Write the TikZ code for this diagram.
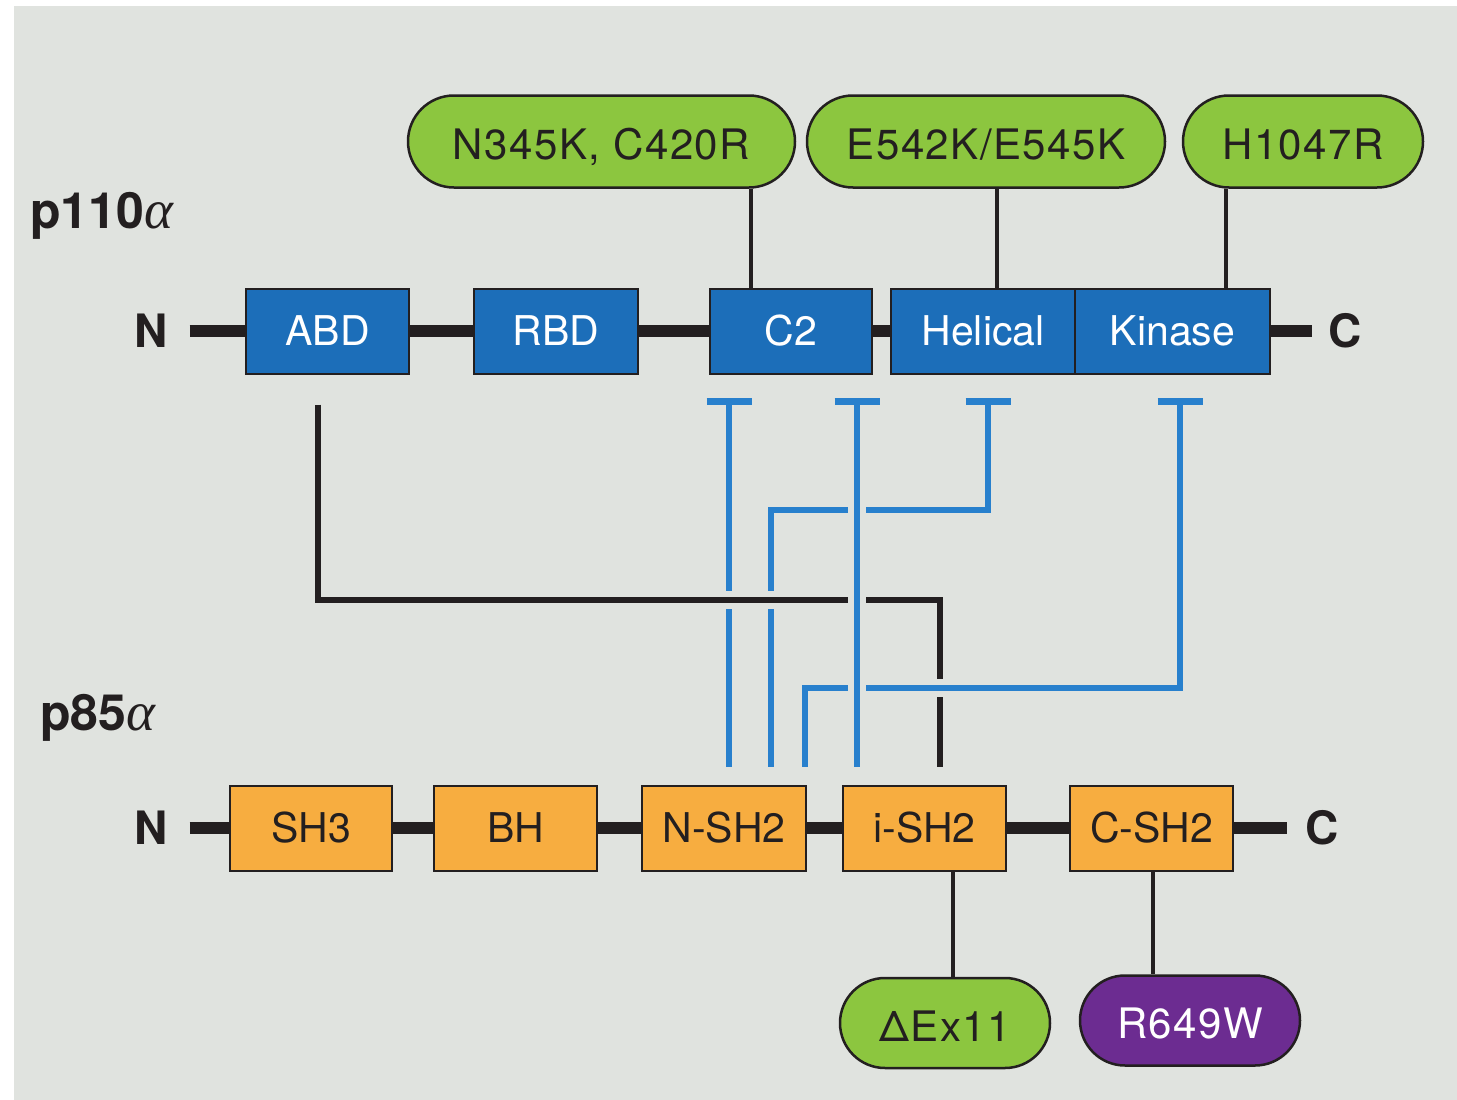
\documentclass[tikz,border=0pt]{standalone}
\usepackage{fontspec}
\setmainfont{TeX Gyre Heros}
\newfontfamily\greekfont{Liberation Serif}
\usetikzlibrary{arrows.meta,shapes.misc}

\definecolor{panelgray}{RGB}{224,227,223}
\definecolor{domblue}{RGB}{28,110,185}
\definecolor{linkblue}{RGB}{40,128,205}
\definecolor{domorange}{RGB}{247,173,64}
\definecolor{mutgreen}{RGB}{140,198,63}
\definecolor{mutpurple}{RGB}{108,44,145}
\definecolor{inkdark}{RGB}{35,31,32}

\newcommand{\isoform}{{\greekfont\mdseries\itshape\fontsize{55}{57}\selectfont α}}

\tikzset{
  dombox/.style={draw=inkdark, line width=2pt, minimum height=85pt, inner sep=0pt, font=\fontsize{41}{44}\selectfont},
  p110dom/.style={dombox, fill=domblue, text=white},
  p85dom/.style={dombox, fill=domorange, text=inkdark},
  mutation/.style={rounded rectangle, draw=inkdark, line width=2.5pt, fill=mutgreen, text=inkdark, minimum height=92pt, inner xsep=0pt, text height=36pt, text depth=0pt, font=\fontsize{42}{45}\selectfont\addfontfeature{LetterSpace=3.5}},
  terminus/.style={inner ysep=0pt, outer sep=0pt, text=inkdark, font=\fontsize{46}{48}\selectfont\bfseries},
  protname/.style={anchor=base west, inner sep=0pt, text=inkdark, font=\fontsize{50}{52}\selectfont\bfseries},
  backbone/.style={draw=inkdark, line width=12pt},
  tether/.style={draw=inkdark, line width=4.5pt},
  halo/.style={preaction={draw=panelgray, line width=18pt, arrows=-}},
  inhib/.style={draw=linkblue, line width=5.5pt, -{Bar[width=45pt,line width=7pt]}, shorten <=18pt, shorten >=23pt},
  contact/.style={draw=inkdark, line width=5.5pt, shorten <=30pt, shorten >=18pt}
}

\begin{document}
\begin{tikzpicture}[x=1pt,y=-1pt]
\useasboundingbox (0,0) rectangle (1457,1100);
\fill[panelgray] (14,6) rectangle (1457,1100);

% protein names
\node[protname] (lblp110) at (30,228) {p110\isoform};
\node[protname] (lblp85) at (40,730) {p85\isoform};

% p110 alpha domains
\node[terminus, inner xsep=22pt] (n110) at (151,331) {N};
\node[terminus, inner xsep=16pt] (c110) at (1345,331) {C};
\node[p110dom, minimum width=163pt] (abd) at (327.5,331) {ABD};
\node[p110dom, minimum width=164pt] (rbd) at (556,331) {RBD};
\node[p110dom, minimum width=162pt] (ctwo) at (791,331) {C2};
\node[p110dom, minimum width=184pt] (helical) at (983,331) {Helical};
\node[p110dom, minimum width=195pt] (kinase) at (1172.5,331) {Kinase};

% p85 alpha domains
\node[terminus, inner xsep=22pt] (n85) at (151,828) {N};
\node[terminus, inner xsep=18pt] (c85) at (1322,828) {C};
\node[p85dom, minimum width=162pt] (shthree) at (311,828) {SH3};
\node[p85dom, minimum width=163pt] (bh) at (515.5,828) {BH};
\node[p85dom, minimum width=164pt] (nsh) at (724,828) {N-SH2};
\node[p85dom, minimum width=163pt] (ish) at (924.5,828) {i-SH2};
\node[p85dom, minimum width=163pt] (csh) at (1151.5,828) {C-SH2};

% linker segments
\foreach \a/\b in {n110/abd, abd/rbd, rbd/ctwo, ctwo/helical, kinase/c110,
                   n85/shthree, shthree/bh, bh/nsh, nsh/ish, ish/csh, csh/c85}
  \draw[backbone] (\a.east) -- (\b.west);

% mutations
\node[mutation, minimum width=387pt] (mutctwo) at (601.5,141.5) {N345K, C420R};
\node[mutation, minimum width=358pt] (muthel) at (986,141.5) {E542K/E545K};
\node[mutation, minimum width=240pt] (mutkin) at (1303,141.5) {H1047R};
\node[mutation, minimum width=210pt, minimum height=90pt] (mutish) at (945,1023) {ΔEx11};
\node[mutation, minimum width=220pt, minimum height=90pt, fill=mutpurple, text=white] (mutcsh) at (1190,1020.5) {R649W};

\coordinate (xctwo) at (751,0);
\coordinate (xhel) at (997,0);
\coordinate (xkin) at (1226,0);
\coordinate (xish) at (953,0);
\coordinate (xcsh) at (1153,0);
\draw[tether] (mutctwo.south -| xctwo) -- (ctwo.north -| xctwo);
\draw[tether] (muthel.south -| xhel) -- (helical.north -| xhel);
\draw[tether] (mutkin.south -| xkin) -- (kinase.north -| xkin);
\draw[tether] (ish.south -| xish) -- (mutish.north -| xish);
\draw[tether] (csh.south -| xcsh) -- (mutcsh.north -| xcsh);

% contacts between subunits
\coordinate (ta) at (729,0);
\coordinate (tb) at (857,0);
\coordinate (tc) at (771,0);
\coordinate (tcc) at (988,0);
\coordinate (td) at (805,0);
\coordinate (tdd) at (1180,0);
\coordinate (ka) at (318,0);
\coordinate (kb) at (940,0);
\coordinate (bendc) at (0,510);
\coordinate (bendk) at (0,600);
\coordinate (bendd) at (0,688);

\draw[inhib] (nsh.north -| ta) -- (ctwo.south -| ta);
\draw[inhib] (nsh.north -| tc) |- (bendc -| tcc) -- (helical.south -| tcc);
\draw[contact, halo] (abd.south -| ka) |- (bendk -| kb) -- (ish.north -| kb);
\draw[inhib, halo] (nsh.north -| td) |- (bendd -| tdd) -- (kinase.south -| tdd);
\draw[inhib, halo] (ish.north -| tb) -- (ctwo.south -| tb);
\end{tikzpicture}
\end{document}
